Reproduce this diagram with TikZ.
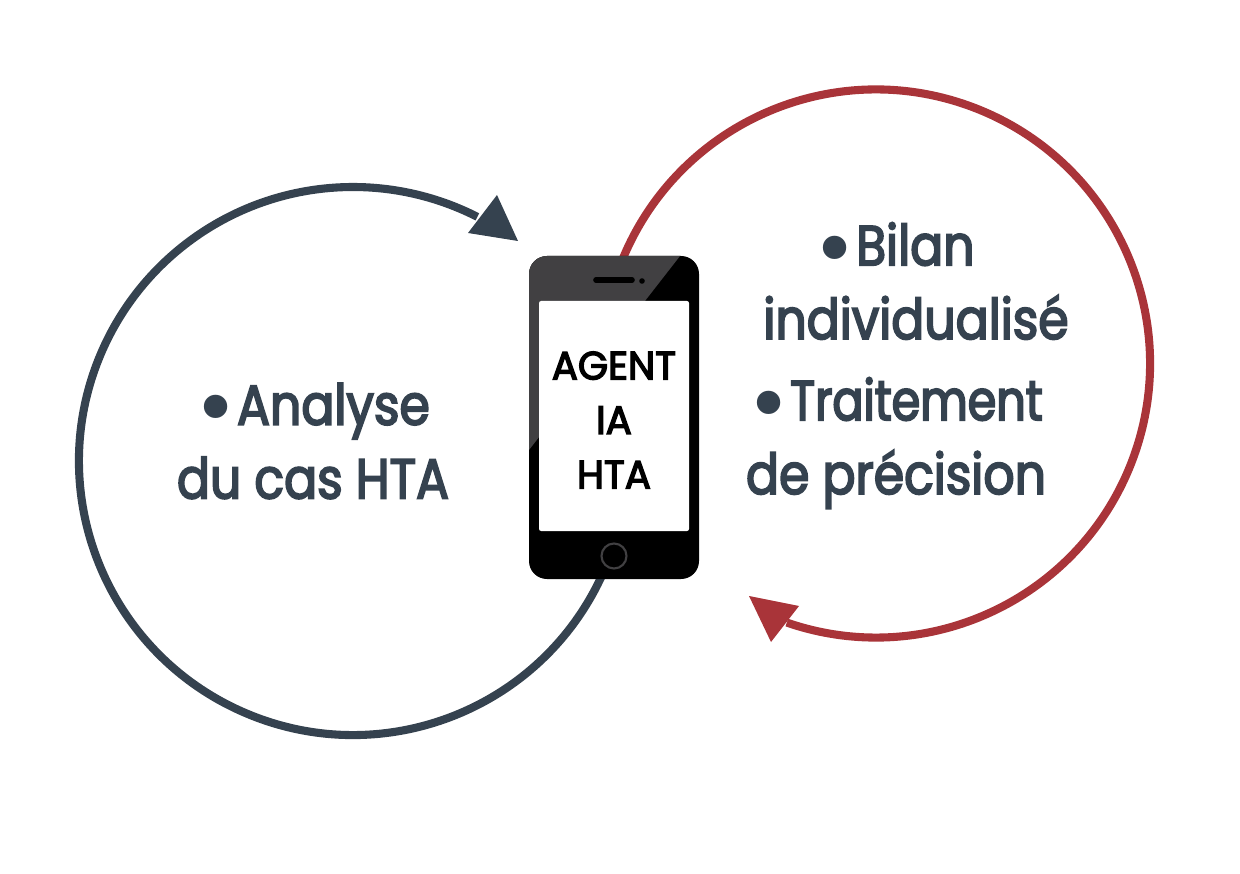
\documentclass[tikz,border=0pt]{standalone}
\usepackage{fontspec}
\newfontfamily\loopfont{Poppins}[FakeStretch=0.87,FakeBold=3.2]
\newfontfamily\tightfont{Poppins}[FakeStretch=0.82,FakeBold=3.2]
\newfontfamily\phonefont{Poppins}[FakeStretch=0.98,FakeBold=3.4]
\newfontfamily\bulletfont{Poppins}
\definecolor{navyhta}{HTML}{35424F}
\definecolor{redhta}{HTML}{A93439}
\definecolor{greyphone}{HTML}{414042}
% big round bullet in front of a loop label
\newcommand{\loopbullet}{\raisebox{-8pt}{\bulletfont\fontsize{54}{42}\selectfont•}\kern1pt}
\tikzset{
  looptext/.style={font=\loopfont\fontsize{32}{42}\selectfont,text=navyhta,align=center,inner sep=0pt},
  phonetext/.style={font=\phonefont\fontsize{22.5}{31}\selectfont,text=black,align=center,inner sep=0pt}
}
\begin{document}
\begin{tikzpicture}[x=0.02cm,y=-0.02cm]
  \useasboundingbox (0,0) rectangle (1240,874);

  %--- left loop
  \coordinate (leftc) at (353,461);
  \draw[navyhta,line width=4.6pt] (leftc) ++(23:274) arc[start angle=23,end angle=297,radius=274];
  \fill[navyhta] (518,241) -- (468,233) -- (497,195) -- cycle;

  %--- right loop
  \coordinate (rightc) at (876,363.5);
  \draw[redhta,line width=4.6pt] (rightc) ++(200:274) arc[start angle=200,end angle=469,radius=274];
  \fill[redhta] (749,596) -- (799,606) -- (771,642) -- cycle;

  %--- phone body: black, with a grey reflection in the upper left
  \fill[black,rounded corners=10.2pt] (529,256) rectangle (699,579);
  \begin{scope}
    \clip[rounded corners=10.2pt] (529,256) rectangle (699,579);
    \fill[greyphone] (529,256) -- (680,256) -- (529,450) -- cycle;
  \end{scope}
  \fill[white,rounded corners=1.2pt] (539,301) rectangle (689,531);
  \draw[black,line width=3.2pt,line cap=round] (596,280) -- (632,280);
  \fill[black] (642,281) circle (2.8);
  \draw[greyphone,line width=1.2pt] (614,556) circle (12.5);

  %--- labels
  \node[phonetext] (agent) at (614,420) {AGENT\\IA\\HTA};
  \node[looptext] (analyse) at (313,441) {\loopbullet Analyse\\du cas HTA};
  \node[looptext] (bilan) at (916,281) {\loopbullet Bilan\kern24pt\\individualisé};
  \node[looptext] (traitement) at (896,443) {\loopbullet{\tightfont Traitement}\\de précision};
\end{tikzpicture}
\end{document}
